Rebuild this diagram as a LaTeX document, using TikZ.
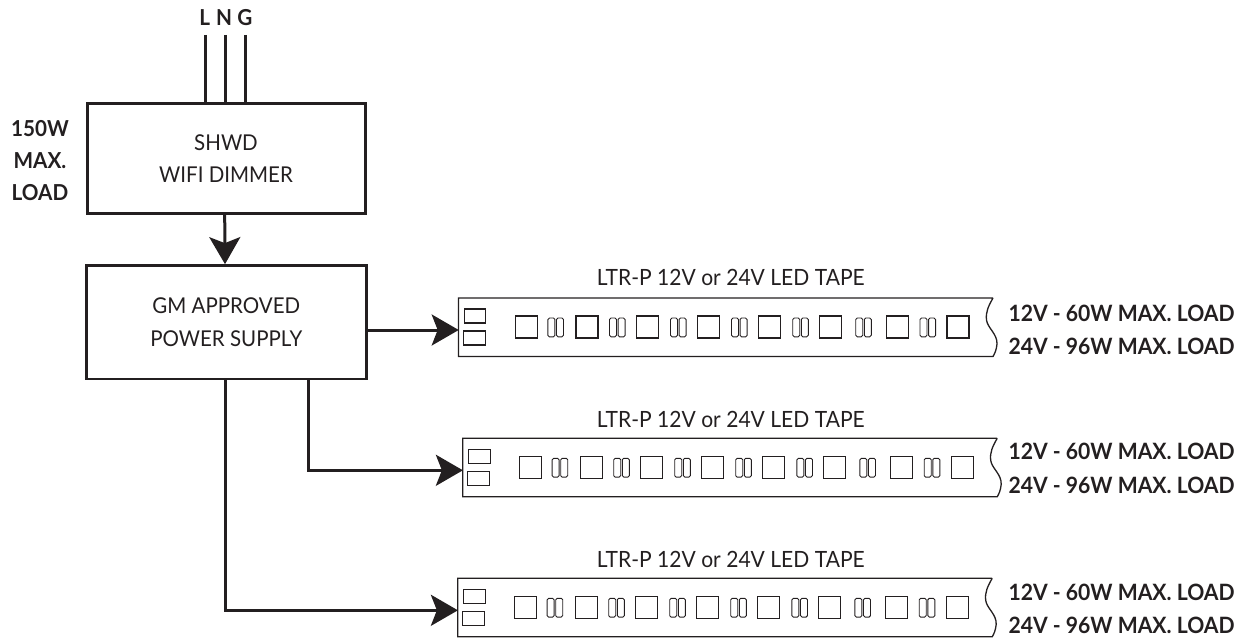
\documentclass[tikz,border=0pt]{standalone}
\usepackage{fontspec}
\setmainfont{Lato}[FakeStretch=0.94]
\usetikzlibrary{arrows.meta,calc}
\definecolor{ink}{HTML}{231F20}
\tikzset{
  txt/.style={text=ink,font=\fontsize{21.8}{32.4}\selectfont,align=center,inner sep=0pt},
  titletxt/.style={text=ink,font=\fontsize{22.4}{28}\selectfont,inner sep=0pt,anchor=base},
  boldtxt/.style={text=ink,font=\fontsize{22}{32}\selectfont\bfseries,align=center,inner sep=0pt},
  loadtxt/.style={boldtxt,font=\fontsize{22.5}{32}\selectfont\bfseries,anchor=base west},
  dimmerbox/.style={draw=ink,line width=3pt,minimum width=278pt,minimum height=109.5pt,inner sep=0pt,txt},
  psubox/.style={draw=ink,line width=2.4pt,minimum width=280pt,minimum height=113.7pt,inner sep=0pt,txt},
  wire/.style={draw=ink,line width=3pt},
  conn/.style={draw=ink,line width=3pt,-{Stealth[length=27pt,width=31pt,inset=6pt]}},
  tapeline/.style={draw=ink,line width=1.3pt},
  part/.style={draw=ink,line width=1.1pt},
  pill/.style={draw=ink,line width=.9pt,rounded corners=1.5pt}
}
\newcommand{\striptape}[3]{%
  \begin{scope}[shift={(#1,#2)}]
    \draw[tapeline] (534.5,0) -- (0,0) -- (0,58.5) -- (534.5,58.5)
      .. controls (536,56) and (538,52) .. (538.5,46)
      .. controls (539,36) and (529,30) .. (528,22)
      .. controls (527,14) and (530,8) .. (534.5,0);
    \draw[part] (5.6,11) rectangle (27.4,25);
    \draw[part] (4.6,33) rectangle (26.6,47);
    \foreach \sx in {56.8,117.5,178.2,239.2,300,361.2,428.2,488.5} {
      \draw[part] (\sx,18) rectangle ({\sx+22},40);
    }
    \foreach \px in {89.4,151,212,273,334.2,397.2,461.5} {
      \draw[pill] (\px,20) rectangle ({\px+7},38.8);
      \draw[pill] ({\px+8.6},20) rectangle ({\px+15.6},38.8);
    }
    \coordinate (#3) at (0.2,32);
  \end{scope}}
\begin{document}
\begin{tikzpicture}[x=1pt,y=-1pt]
\useasboundingbox (0,0) rectangle (1245,639);
\node[dimmerbox] (dim) at (226,158.7) {SHWD\\WIFI DIMMER};
\node[psubox] (psu) at (226.3,322.2) {GM APPROVED\\POWER SUPPLY};
\node[boldtxt,anchor=base] (lab) at (204.7,26) {L};
\node[boldtxt,anchor=base] (nab) at (224,26) {N};
\node[boldtxt,anchor=base] (gab) at (245,26) {G};
\coordinate (lw) at (205,35);
\coordinate (nw) at (225,35);
\coordinate (gw) at (245,35);
\draw[wire] (lw) -- (lw |- dim.north);
\draw[wire] (nw) -- (nw |- dim.north);
\draw[wire] (gw) -- (gw |- dim.north);
\node[boldtxt] (load) at (40,161) {150W\\MAX.\\LOAD};
\striptape{458.5}{298}{ta}
\striptape{462.7}{438.3}{tb}
\striptape{457.7}{578.3}{tc}
\node[titletxt] (tta) at (730.8,285.5) {LTR-P 12V or 24V LED TAPE};
\node[titletxt] (ttb) at (730.8,427.2) {LTR-P 12V or 24V LED TAPE};
\node[titletxt] (ttc) at (730.8,567.8) {LTR-P 12V or 24V LED TAPE};
\node[loadtxt] (ala) at (1008.3,321) {12V - 60W MAX. LOAD};
\node[loadtxt] (alb) at (1008.3,354) {24V - 96W MAX. LOAD};
\node[loadtxt] (bla) at (1008.3,459.5) {12V - 60W MAX. LOAD};
\node[loadtxt] (blb) at (1008.3,493.8) {24V - 96W MAX. LOAD};
\node[loadtxt] (cla) at (1008.3,600) {12V - 60W MAX. LOAD};
\node[loadtxt] (clb) at (1008.3,633.5) {24V - 96W MAX. LOAD};
\draw[conn] ([xshift=-1.3pt]dim.south) -- ([xshift=-1.3pt]psu.north);
\draw[conn] (psu.east |- ta) -- (ta);
\draw[conn] ([xshift=82pt]psu.south) |- (tb);
\draw[conn] ([xshift=-1.3pt]psu.south) |- (tc);
\end{tikzpicture}
\end{document}
